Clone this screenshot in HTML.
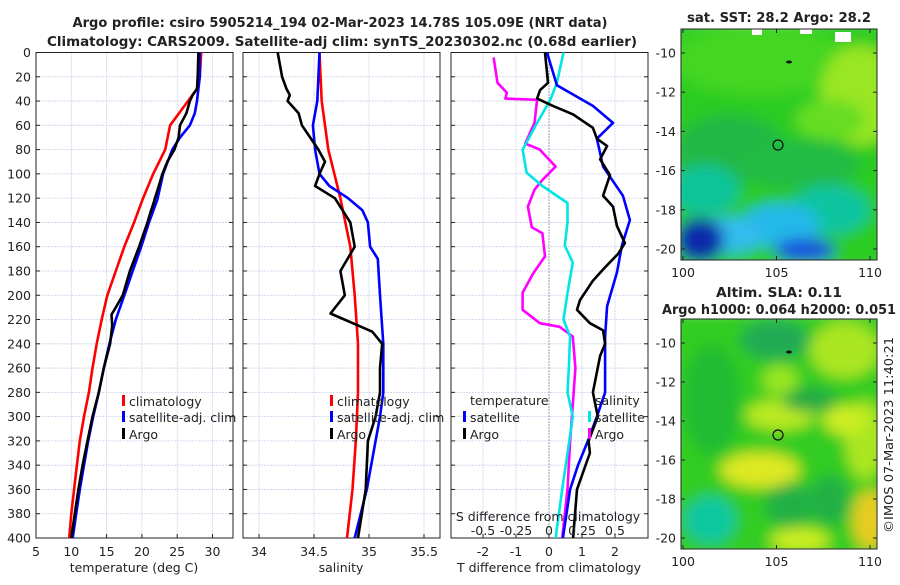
<!DOCTYPE html>
<html><head><meta charset="utf-8"><style>
body{margin:0;background:#fff}
svg text{font-family:"DejaVu Sans","Liberation Sans",sans-serif;fill:#222}
</style></head><body>
<svg id="fig" width="900" height="580" viewBox="0 0 900 580" xmlns="http://www.w3.org/2000/svg">
<defs>
<filter id="bl" x="-20%" y="-20%" width="140%" height="140%"><feGaussianBlur stdDeviation="7"/></filter>
<clipPath id="c1"><rect x="681" y="29" width="196" height="231"/></clipPath>
<clipPath id="c2"><rect x="681" y="319" width="196" height="230"/></clipPath>
<clipPath id="p1"><rect x="36" y="52" width="197" height="486"/></clipPath>
<clipPath id="p2"><rect x="243" y="52" width="197" height="486"/></clipPath>
<clipPath id="p3"><rect x="451" y="52" width="197" height="486"/></clipPath>
</defs>
<text x="340" y="27" text-anchor="middle" font-size="13" font-weight="bold" textLength="535" lengthAdjust="spacingAndGlyphs">Argo profile: csiro 5905214_194 02-Mar-2023 14.78S 105.09E (NRT data)</text>
<text x="342" y="46" text-anchor="middle" font-size="13" font-weight="bold" textLength="590" lengthAdjust="spacingAndGlyphs">Climatology: CARS2009. Satellite-adj clim: synTS_20230302.nc (0.68d earlier)</text>

<g>
<text x="779" y="22" text-anchor="middle" font-size="13" font-weight="bold" textLength="184" lengthAdjust="spacingAndGlyphs">sat. SST: 28.2 Argo: 28.2</text>
<g clip-path="url(#c1)"><g filter="url(#bl)">
<rect x="670" y="20" width="220" height="250" fill="#2ccc22"/>
<ellipse cx="760" cy="60" rx="90" ry="35" fill="#44d622"/>
<ellipse cx="860" cy="95" rx="40" ry="50" fill="#99e622"/>
<ellipse cx="830" cy="120" rx="35" ry="20" fill="#66dd22"/>
<ellipse cx="730" cy="150" rx="55" ry="35" fill="#22b844"/>
<ellipse cx="800" cy="165" rx="60" ry="25" fill="#22bb44"/>
<ellipse cx="705" cy="190" rx="35" ry="25" fill="#11c49a"/>
<ellipse cx="830" cy="210" rx="40" ry="25" fill="#11c4a0"/>
<ellipse cx="780" cy="225" rx="40" ry="22" fill="#22b8e8"/>
<ellipse cx="730" cy="235" rx="35" ry="18" fill="#33bbee"/>
<ellipse cx="805" cy="250" rx="30" ry="12" fill="#1a55dd"/>
<ellipse cx="700" cy="240" rx="24" ry="22" fill="#0a2aaa"/>
</g>
<rect x="752" y="29" width="10" height="6" fill="#fff"/><rect x="800" y="29" width="12" height="5" fill="#fff"/><rect x="835" y="32" width="16" height="10" fill="#fff"/>
</g>
<rect x="681" y="29" width="196" height="231" fill="none" stroke="#222" stroke-width="1"/>
<circle cx="778" cy="145" r="5" fill="none" stroke="#111" stroke-width="1.2"/>
<ellipse cx="789" cy="62" rx="3" ry="1.5" fill="#111"/>
<g id="m1ax"></g>
</g>

<g>
<text x="779" y="297" text-anchor="middle" font-size="13" font-weight="bold" textLength="126" lengthAdjust="spacingAndGlyphs">Altim. SLA: 0.11</text>
<text x="779" y="314" text-anchor="middle" font-size="13" font-weight="bold" textLength="234" lengthAdjust="spacingAndGlyphs">Argo h1000: 0.064 h2000: 0.051</text>
<g clip-path="url(#c2)"><g filter="url(#bl)">
<rect x="670" y="310" width="220" height="250" fill="#33cc22"/>
<ellipse cx="845" cy="350" rx="35" ry="28" fill="#aae622"/>
<ellipse cx="865" cy="440" rx="20" ry="40" fill="#aae622"/>
<ellipse cx="780" cy="380" rx="18" ry="15" fill="#99e622"/>
<ellipse cx="780" cy="415" rx="35" ry="15" fill="#bbea22"/>
<ellipse cx="845" cy="420" rx="22" ry="15" fill="#ccee22"/>
<ellipse cx="760" cy="470" rx="40" ry="18" fill="#dde822"/>
<ellipse cx="870" cy="520" rx="18" ry="30" fill="#e6cc22"/>
<ellipse cx="800" cy="540" rx="30" ry="12" fill="#ccee22"/>
<ellipse cx="775" cy="340" rx="35" ry="20" fill="#22aa55"/>
<ellipse cx="810" cy="400" rx="28" ry="12" fill="#22aa44"/>
<ellipse cx="712" cy="400" rx="28" ry="55" fill="#22bb33"/>
<ellipse cx="790" cy="505" rx="25" ry="22" fill="#22b044"/>
<ellipse cx="830" cy="500" rx="20" ry="25" fill="#22b044"/>
<ellipse cx="710" cy="520" rx="26" ry="24" fill="#11c8a0"/>
</g></g>
<rect x="681" y="319" width="196" height="230" fill="none" stroke="#222" stroke-width="1"/>
<circle cx="778" cy="435" r="5" fill="none" stroke="#111" stroke-width="1.2"/>
<ellipse cx="789" cy="352" rx="3" ry="1.5" fill="#111"/>
<g id="m2ax"></g>
<text transform="translate(893,435) rotate(-90)" text-anchor="middle" font-size="12.5" textLength="196" lengthAdjust="spacingAndGlyphs">©IMOS 07-Mar-2023 11:40:21</text>
</g>
<g id="plots"></g>
</svg>
<script>
// ---- data ----
const depthTicks=[0,20,40,60,80,100,120,140,160,180,200,220,240,260,280,300,320,340,360,380,400];
const tTicks=[5,10,15,20,25,30];
const sTicks=[34,34.5,35,35.5];
const dTTicks=[-2,-1,0,1,2];
const dSTicks=[-0.5,-0.25,0,0.25,0.5];
const dSTickLabels=['-0.5','-0.25','0','0.25','0.5'];
const climTD=[0,20,30,60,80,100,121,140,160,180,200,220,240,260,280,300,320,340,360,380,400];
const climT=[28.4,28.2,27.8,24.0,23.3,21.6,20.1,18.9,17.5,16.3,15.1,14.3,13.6,13.0,12.5,11.8,11.2,10.8,10.4,10.0,9.7];
const satTD=[0,20,40,50,60,70,80,100,121,140,160,180,200,220,240,260,280,300,320,340,360,380,400];
const satT=[28.2,28.2,27.8,27.5,26.8,25.4,24.3,23.0,22.2,21.0,19.9,18.7,17.5,16.3,15.4,14.6,13.9,13.1,12.4,11.8,11.2,10.7,10.2];
const argoTD=[0,20,30,35,40,50,60,70,80,90,100,110,121,125,130,140,160,180,200,210,216,225,240,260,280,300,320,340,360,380,400];
const argoT=[28.0,27.9,27.8,27.2,26.8,26.3,25.4,25.2,24.6,23.6,22.9,22.4,21.8,21.6,21.3,20.8,19.6,18.3,17.3,16.3,15.7,15.8,15.5,14.6,13.9,13.0,12.3,11.6,11.0,10.5,10.0];
const climSD=[0,40,80,120,160,200,240,280,320,360,400];
const climS=[34.55,34.57,34.63,34.74,34.83,34.87,34.90,34.90,34.88,34.85,34.80];
const satSD=[0,40,60,80,100,110,120,130,140,160,170,200,240,280,300,320,360,400];
const satS=[34.55,34.53,34.49,34.51,34.55,34.64,34.81,34.94,34.99,35.01,35.08,35.10,35.13,35.13,35.10,35.06,34.98,34.87];
const argoSD=[0,20,30,35,40,50,60,80,90,100,110,120,140,160,180,200,215,230,240,260,280,300,320,360,400];
const argoS=[34.17,34.21,34.25,34.28,34.26,34.36,34.39,34.54,34.60,34.55,34.51,34.69,34.83,34.87,34.74,34.78,34.65,35.03,35.12,35.10,35.10,35.06,34.99,34.97,34.90];
const dTsatD=[0,27,44,58,71,94,118,138,159,181,209,234,260,280,300,320,340,360,400];
const dTsat=[-0.06,0.24,1.33,1.94,1.45,1.64,2.24,2.45,2.21,2.06,1.76,1.70,1.70,1.70,1.45,1.18,0.88,0.64,0.42];
const dTargoD=[0,25,31,38,44,51,62,71,77,88,101,118,127,143,157,166,177,188,204,212,223,229,240,250,280,300,320,330,360,400];
const dTargo=[-0.12,-0.03,-0.27,-0.36,0.12,0.73,1.33,1.45,1.76,1.55,1.85,1.64,1.94,2.06,2.30,2.09,1.70,1.33,0.94,0.85,1.24,1.64,1.70,1.55,1.33,1.48,1.20,1.24,0.85,0.73];
const dSsatD=[0,25,39,58,80,99,110,124,140,159,173,198,220,234,260,280,300,330,360,400];
const dSsat=[0.11,0.06,0.01,-0.09,-0.20,-0.17,-0.05,0.14,0.14,0.12,0.18,0.14,0.11,0.16,0.15,0.14,0.18,0.14,0.10,0.05];
const dSargoD=[4,25,33,38,39,58,75,80,94,105,113,127,144,149,168,182,198,212,223,226,234,260,290,320,360,400];
const dSargo=[-0.42,-0.39,-0.32,-0.33,-0.09,-0.11,-0.18,-0.07,0.05,-0.05,-0.11,-0.16,-0.13,-0.05,-0.03,-0.12,-0.20,-0.20,-0.07,0.08,0.18,0.20,0.18,0.16,0.14,0.10];
const mapLon=[100,105,110];
const mapLat=[-10,-12,-14,-16,-18,-20];

// ---- scales ----
const NS='http://www.w3.org/2000/svg';
const Y0=52.5,Y1=538;
const yD=d=>Y0+(Y1-Y0)*d/400;
const xT=v=>36+(v-5)*7.06;
const xS=v=>259+(v-34)*110;
const xDT=v=>549+v*33;
const xDS=v=>549+v*132;
const plots=document.getElementById('plots');
function mk(tag,attrs,parent){const e=document.createElementNS(NS,tag);for(const k in attrs)e.setAttribute(k,attrs[k]);(parent||plots).appendChild(e);return e;}
function txt(x,y,s,size,anchor,parent){const t=mk('text',{x:x,y:y,'font-size':size,'text-anchor':anchor||'middle'},parent);t.textContent=s;return t;}

const panels=[
 {x:36,clip:'p1',name:'temperature-panel',xf:xT,ticks:tTicks,labels:tTicks.map(String),xlab:'temperature (deg C)'},
 {x:243,clip:'p2',name:'salinity-panel',xf:xS,ticks:sTicks,labels:sTicks.map(String),xlab:'salinity'},
 {x:451,clip:'p3',name:'difference-panel',xf:xDT,ticks:dTTicks,labels:dTTicks.map(String),xlab:'T difference from climatology'}
];
panels.forEach((p,i)=>{
 const g=mk('g',{});
 
 
 const grid=mk('g',{stroke:'#c8d0e8','stroke-width':0.8,'stroke-dasharray':'2,1'},g);
 depthTicks.forEach(d=>{mk('line',{x1:p.x,x2:p.x+197,y1:yD(d),y2:yD(d)},grid);});
 p.ticks.forEach(v=>{const x=p.xf(v);mk('line',{x1:x,x2:x,y1:Y0,y2:Y1},grid);});
 if(i==2){mk('line',{x1:549,x2:549,y1:Y0,y2:Y1,stroke:'#555','stroke-width':1,'stroke-dasharray':'1,2'},g);}
 mk('rect',{x:p.x,y:Y0,width:197,height:Y1-Y0,fill:'none',stroke:'#222','stroke-width':1},g);
 depthTicks.forEach(d=>{mk('line',{x1:p.x,x2:p.x+4,y1:yD(d),y2:yD(d),stroke:'#222'},g);mk('line',{x1:p.x+193,x2:p.x+197,y1:yD(d),y2:yD(d),stroke:'#222'},g);
  if(i==0){txt(31,yD(d)+4.5,String(d),12.5,'end',g);}});
 p.ticks.forEach((v,k)=>{const x=p.xf(v);mk('line',{x1:x,x2:x,y1:Y1,y2:Y1-4,stroke:'#222'},g);txt(x,556,p.labels[k],12.5,'middle',g);});
 const xl=txt(p.x+98,572,p.xlab,12.5,'middle',g);
 
 
});

function line(D,V,xf,color,clip,name){
 const pts=D.map((d,k)=>xf(V[k]).toFixed(1)+','+yD(d).toFixed(1)).join(' ');
 const l=mk('polyline',{points:pts,fill:'none',stroke:color,'stroke-width':2.6,'stroke-linejoin':'round','clip-path':'url(#'+clip+')'});
 
 
}
line(climTD,climT,xT,'#ff0000','p1','temp-climatology-line');
line(satTD,satT,xT,'#0000ff','p1','temp-satellite-line');
line(argoTD,argoT,xT,'#000000','p1','temp-argo-line');
line(climSD,climS,xS,'#ff0000','p2','sal-climatology-line');
line(satSD,satS,xS,'#0000ff','p2','sal-satellite-line');
line(argoSD,argoS,xS,'#000000','p2','sal-argo-line');
line(dSargoD,dSargo,xDS,'#ff00ff','p3','sdiff-argo-line');
line(dSsatD,dSsat,xDS,'#00e6e6','p3','sdiff-satellite-line');
line(dTsatD,dTsat,xDT,'#0000ff','p3','tdiff-satellite-line');
line(dTargoD,dTargo,xDT,'#000000','p3','tdiff-argo-line');

const sdl=txt(548,521,'S difference from climatology',12.5,'middle');


dSTicks.forEach((v,k)=>{txt(xDS(v),535,dSTickLabels[k],12.5,'middle');});

function legend(x,y,color,label,name){
 mk('rect',{x:x-7,y:y-6,width:3,height:11,fill:color});
 const t=txt(x,y+5,label,12.5,'start');
 
 
}
legend(129,401,'#ff0000','climatology','legend-temp-climatology');
legend(129,417,'#0000ff','satellite-adj. clim','legend-temp-satellite');
legend(129,434,'#000000','Argo','legend-temp-argo');
legend(337,401,'#ff0000','climatology','legend-sal-climatology');
legend(337,417,'#0000ff','satellite-adj. clim','legend-sal-satellite');
legend(337,434,'#000000','Argo','legend-sal-argo');
txt(470,405,'temperature',12.5,'start');
txt(595,405,'salinity',12.5,'start');
legend(470,417,'#0000ff','satellite','legend-tdiff-satellite');
legend(470,434,'#000000','Argo','legend-tdiff-argo');
legend(595,417,'#00e6e6','satellite','legend-sdiff-satellite');
legend(595,434,'#ff00ff','Argo','legend-sdiff-argo');

function mapAxes(id,top,h,bottomY){
 const g=document.getElementById(id);
 const lx=v=>683+(v-100)*18.7;
 const ly=v=>top+24+(-10-v)*(h-35)/10;
 mapLon.forEach(v=>{const x=lx(v);mk('line',{x1:x,x2:x,y1:top+h,y2:top+h-4,stroke:'#222'},g);mk('line',{x1:x,x2:x,y1:top,y2:top+4,stroke:'#222'},g);txt(x,bottomY,String(v),12.5,'middle',g);});
 mapLat.forEach(v=>{const y=ly(v);mk('line',{x1:681,x2:685,y1:y,y2:y,stroke:'#222'},g);mk('line',{x1:873,x2:877,y1:y,y2:y,stroke:'#222'},g);txt(676,y+4.5,String(v),12.5,'end',g);});
}
mapAxes('m1ax',29,231,277);
mapAxes('m2ax',319,230,566);
</script>
</body></html>
